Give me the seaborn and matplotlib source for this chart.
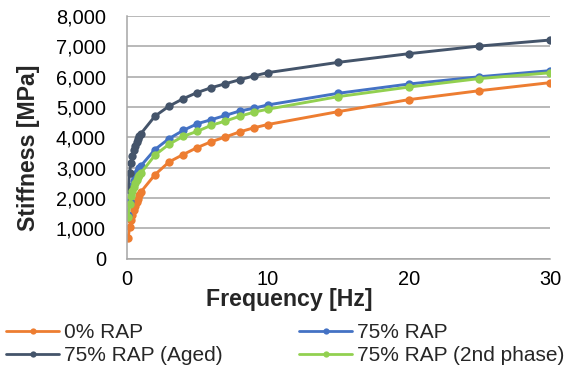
import matplotlib
matplotlib.use("Agg")
import matplotlib.pyplot as plt
import seaborn as sns
import pandas as pd
from matplotlib.ticker import FuncFormatter, MultipleLocator
from matplotlib.lines import Line2D

freq = [0.1, 0.2, 0.3, 0.4, 0.5, 0.6, 0.7, 0.8, 0.9, 1, 2, 3, 4, 5, 6, 7, 8, 9, 10, 15, 20, 25, 30]
rap0 = [670, 1030, 1270, 1450, 1600, 1740, 1860, 1980, 2090, 2200, 2770, 3190, 3435, 3665, 3860, 4015, 4180, 4315, 4425, 4850, 5245, 5540, 5805]
rap75 = [1450, 1900, 2200, 2410, 2570, 2700, 2810, 2900, 2980, 3060, 3600, 3960, 4230, 4450, 4585, 4725, 4870, 4960, 5070, 5455, 5760, 6000, 6200]
rap75_aged = [2310, 2830, 3160, 3400, 3600, 3730, 3840, 3940, 4030, 4120, 4700, 5030, 5275, 5480, 5640, 5770, 5900, 6025, 6135, 6475, 6760, 7012, 7210]
rap75_2nd = [1360, 1800, 2060, 2240, 2380, 2500, 2600, 2690, 2760, 2820, 3415, 3775, 4035, 4200, 4400, 4540, 4695, 4830, 4930, 5345, 5660, 5940, 6130]

series_names = ["0% RAP", "75% RAP", "75% RAP (Aged)", "75% RAP (2nd phase)"]
colors = ["#ED7D31", "#4472C4", "#44546A", "#92D050"]

rows = []
for name, vals in zip(series_names, [rap0, rap75, rap75_aged, rap75_2nd]):
    for f, v in zip(freq, vals):
        rows.append({"Frequency": f, "Stiffness": v, "Series": name})
df = pd.DataFrame(rows)

sns.set_style("white")
plt.rcParams["font.family"] = ["Liberation Sans", "DejaVu Sans"]

fig = plt.figure(figsize=(5.69, 3.74), dpi=100)
ax = fig.add_axes([0.2227, 0.3083, 0.7439, 0.6487])

sns.lineplot(data=df, x="Frequency", y="Stiffness", hue="Series",
             hue_order=series_names, palette=colors, marker="o",
             markersize=6, markeredgewidth=0, linewidth=2.1,
             legend=False, ax=ax, sort=False)

ax.set_xlim(0, 30)
ax.set_ylim(0, 8000)
ax.xaxis.set_major_locator(MultipleLocator(10))
ax.yaxis.set_major_locator(MultipleLocator(1000))
ax.yaxis.set_major_formatter(FuncFormatter(lambda v, p: f"{int(v):,}"))
ax.grid(axis="y", color="#A6A6A6", linewidth=1.1)
ax.grid(axis="x", visible=False)
ax.set_axisbelow(True)
for s in ["top", "right"]:
    ax.spines[s].set_visible(False)
for s in ["left", "bottom"]:
    ax.spines[s].set_color("#A6A6A6")
    ax.spines[s].set_linewidth(1.1)
ax.tick_params(axis="both", which="major", direction="out", length=4.5,
               color="#A6A6A6", width=1.1, labelsize=14.4, labelcolor="black")
ax.tick_params(axis="y", pad=10.5)
ax.tick_params(axis="x", pad=3.5)

ax.set_xlabel("Frequency [Hz]", fontsize=16.7, fontweight="bold", va="center", ha="center")
ax.xaxis.set_label_coords(0.383, -0.168)
ax.set_ylabel("Stiffness [MPa]", fontsize=16.7, fontweight="bold", va="center", ha="center")
ax.yaxis.set_label_coords(-0.231, 0.459)

handles = [Line2D([0], [0], color=c, lw=2.0, marker="o", markersize=4.5,
                  markeredgewidth=0) for c in colors]
order = [0, 2, 1, 3]
fig.legend([handles[i] for i in order], [series_names[i] for i in order],
           loc="center left", bbox_to_anchor=(0.0114, 0.0800), ncol=2,
           frameon=False, fontsize=15, handlelength=2.5, handletextpad=0.25,
           columnspacing=3.7, labelspacing=0.2, borderaxespad=0.0, borderpad=0.0)

fig.savefig("out.png", dpi=100)
